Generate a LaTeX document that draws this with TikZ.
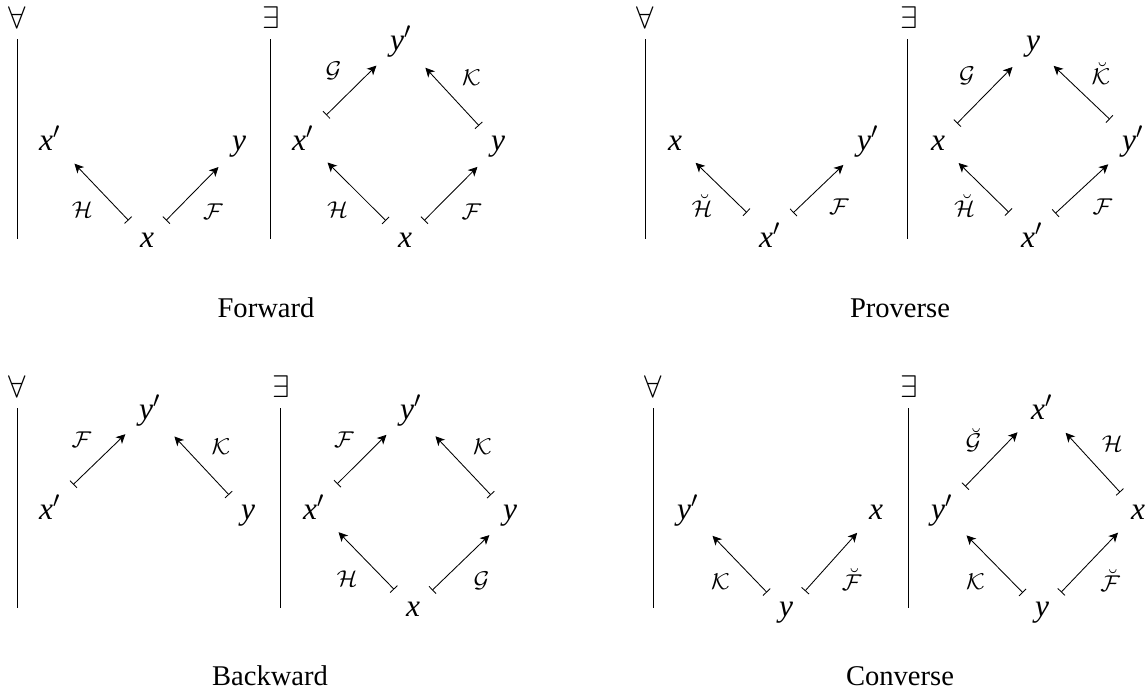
\documentclass[tikz,border=0pt]{standalone}
\usepackage{fontspec}
\setmainfont{Liberation Serif}
\usetikzlibrary{arrows.meta}
\newcommand{\vx}{\textit{x}}
\newcommand{\vy}{\textit{y}}
\newcommand{\pr}{\ensuremath{{}^{\prime}}}
\begin{document}
\begin{tikzpicture}[x=0.35pt,y=-0.35pt,
  obj/.style={inner sep=3pt, anchor=base, font=\fontsize{11}{13}\selectfont},
  lbl/.style={inner sep=0pt, font=\fontsize{8.5}{10}\selectfont},
  qnt/.style={inner sep=0pt, font=\fontsize{11}{13}\selectfont},
  capt/.style={inner sep=0pt, anchor=base, font=\fontsize{10}{12}\selectfont},
  mto/.style={{Bar[width=3.5pt]}-{Stealth[length=3.2pt,width=3.2pt,inset=0.9pt]}, line width=0.3pt, shorten <=1.5pt, shorten >=2.2pt},
  qline/.style={line width=0.35pt}]
\useasboundingbox (0,0) rectangle (1147,694);

% ---------------- Panel 1: Forward ----------------
\node[qnt] (p1A) at (17,18) {$\forall$};
\node[qnt] (p1E) at (271,18) {$\exists$};
\coordinate (p1At) at (17,39); \coordinate (p1Ab) at (17,239);
\coordinate (p1Et) at (270,39); \coordinate (p1Eb) at (270,239);
\draw[qline] (p1At) -- (p1Ab);
\draw[qline] (p1Et) -- (p1Eb);
\node[obj] (p1ax') at (50,150) {\vx\pr};
\node[obj] (p1ay) at (239,150) {\vy};
\node[obj] (p1ax) at (147,247) {\vx};
\draw[mto] (p1ax) -- (p1ax') node[midway, lbl, shift={(-6.5pt,-6.5pt)}] (p1l1) {$\mathcal{H}$};
\draw[mto] (p1ax) -- (p1ay) node[midway, lbl, shift={(7pt,-6.5pt)}] (p1l2) {$\mathcal{F}$};
\node[obj] (p1by') at (401,50) {\vy\pr};
\node[obj] (p1bx') at (303,150) {\vx\pr};
\node[obj] (p1by) at (498,150) {\vy};
\node[obj] (p1bx) at (405,247) {\vx};
\draw[mto] (p1bx') -- (p1by') node[midway, lbl, shift={(-6.5pt,6.5pt)}] (p1l3) {$\mathcal{G}$};
\draw[mto] (p1by) -- (p1by') node[midway, lbl, shift={(7pt,6.5pt)}] (p1l4) {$\mathcal{K}$};
\draw[mto] (p1bx) -- (p1bx') node[midway, lbl, shift={(-6.5pt,-6.5pt)}] (p1l5) {$\mathcal{H}$};
\draw[mto] (p1bx) -- (p1by) node[midway, lbl, shift={(7pt,-6.5pt)}] (p1l6) {$\mathcal{F}$};
\node[capt] (p1c) at (266,317) {Forward};

% ---------------- Panel 2: Proverse ----------------
\node[qnt] (p2A) at (645,18) {$\forall$};
\node[qnt] (p2E) at (909,18) {$\exists$};
\coordinate (p2At) at (645,39); \coordinate (p2Ab) at (645,239);
\coordinate (p2Et) at (907,39); \coordinate (p2Eb) at (907,239);
\draw[qline] (p2At) -- (p2Ab);
\draw[qline] (p2Et) -- (p2Eb);
\node[obj] (p2ax) at (675,150) {\vx};
\node[obj] (p2ay') at (868,150) {\vy\pr};
\node[obj] (p2ax') at (770,247) {\vx\pr};
\draw[mto] (p2ax') -- (p2ax) node[midway, lbl, shift={(-6.5pt,-6.5pt)}] (p2l1) {$\breve{\mathcal{H}}$};
\draw[mto] (p2ax') -- (p2ay') node[midway, lbl, shift={(7pt,-6.5pt)}] (p2l2) {$\mathcal{F}$};
\node[obj] (p2by) at (1033,50) {\vy};
\node[obj] (p2bx) at (938,150) {\vx};
\node[obj] (p2by') at (1133,150) {\vy\pr};
\node[obj] (p2bx') at (1032,247) {\vx\pr};
\draw[mto] (p2bx) -- (p2by) node[midway, lbl, shift={(-6.5pt,6.5pt)}] (p2l3) {$\mathcal{G}$};
\draw[mto] (p2by') -- (p2by) node[midway, lbl, shift={(7pt,6.5pt)}] (p2l4) {$\breve{\mathcal{K}}$};
\draw[mto] (p2bx') -- (p2bx) node[midway, lbl, shift={(-6.5pt,-6.5pt)}] (p2l5) {$\breve{\mathcal{H}}$};
\draw[mto] (p2bx') -- (p2by') node[midway, lbl, shift={(7pt,-6.5pt)}] (p2l6) {$\mathcal{F}$};
\node[capt] (p2c) at (900,317) {Proverse};

% ---------------- Panel 3: Backward ----------------
\node[qnt] (p3A) at (17,387) {$\forall$};
\node[qnt] (p3E) at (281,387) {$\exists$};
\coordinate (p3At) at (17,408); \coordinate (p3Ab) at (17,608);
\coordinate (p3Et) at (280,408); \coordinate (p3Eb) at (280,608);
\draw[qline] (p3At) -- (p3Ab);
\draw[qline] (p3Et) -- (p3Eb);
\node[obj] (p3ay') at (150,419) {\vy\pr};
\node[obj] (p3ax') at (50,519) {\vx\pr};
\node[obj] (p3ay) at (248,519) {\vy};
\draw[mto] (p3ax') -- (p3ay') node[midway, lbl, shift={(-6.5pt,6.5pt)}] (p3l1) {$\mathcal{F}$};
\draw[mto] (p3ay) -- (p3ay') node[midway, lbl, shift={(7pt,6.5pt)}] (p3l2) {$\mathcal{K}$};
\node[obj] (p3by') at (411,419) {\vy\pr};
\node[obj] (p3bx') at (314,519) {\vx\pr};
\node[obj] (p3by) at (510,519) {\vy};
\node[obj] (p3bx) at (413,616) {\vx};
\draw[mto] (p3bx') -- (p3by') node[midway, lbl, shift={(-6.5pt,6.5pt)}] (p3l3) {$\mathcal{F}$};
\draw[mto] (p3by) -- (p3by') node[midway, lbl, shift={(7pt,6.5pt)}] (p3l4) {$\mathcal{K}$};
\draw[mto] (p3bx) -- (p3bx') node[midway, lbl, shift={(-6.5pt,-6.5pt)}] (p3l5) {$\mathcal{H}$};
\draw[mto] (p3bx) -- (p3by) node[midway, lbl, shift={(7pt,-6.5pt)}] (p3l6) {$\mathcal{G}$};
\node[capt] (p3c) at (270,685) {Backward};

% ---------------- Panel 4: Converse ----------------
\node[qnt] (p4A) at (653,387) {$\forall$};
\node[qnt] (p4E) at (909,387) {$\exists$};
\coordinate (p4At) at (653,408); \coordinate (p4Ab) at (653,608);
\coordinate (p4Et) at (908,408); \coordinate (p4Eb) at (908,608);
\draw[qline] (p4At) -- (p4Ab);
\draw[qline] (p4Et) -- (p4Eb);
\node[obj] (p4ay') at (688,519) {\vy\pr};
\node[obj] (p4ax) at (876,519) {\vx};
\node[obj] (p4ay) at (786,616) {\vy};
\draw[mto] (p4ay) -- (p4ay') node[midway, lbl, shift={(-6.5pt,-6.5pt)}] (p4l1) {$\mathcal{K}$};
\draw[mto] (p4ay) -- (p4ax) node[midway, lbl, shift={(7pt,-6.5pt)}] (p4l2) {$\breve{\mathcal{F}}$};
\node[obj] (p4bx') at (1042,419) {\vx\pr};
\node[obj] (p4by') at (942,519) {\vy\pr};
\node[obj] (p4bx) at (1138,519) {\vx};
\node[obj] (p4by) at (1042,616) {\vy};
\draw[mto] (p4by') -- (p4bx') node[midway, lbl, shift={(-6.5pt,6.5pt)}] (p4l3) {$\breve{\mathcal{G}}$};
\draw[mto] (p4bx) -- (p4bx') node[midway, lbl, shift={(7pt,6.5pt)}] (p4l4) {$\mathcal{H}$};
\draw[mto] (p4by) -- (p4by') node[midway, lbl, shift={(-6.5pt,-6.5pt)}] (p4l5) {$\mathcal{K}$};
\draw[mto] (p4by) -- (p4bx) node[midway, lbl, shift={(7pt,-6.5pt)}] (p4l6) {$\breve{\mathcal{F}}$};
\node[capt] (p4c) at (900,685) {Converse};
\end{tikzpicture}
\end{document}
